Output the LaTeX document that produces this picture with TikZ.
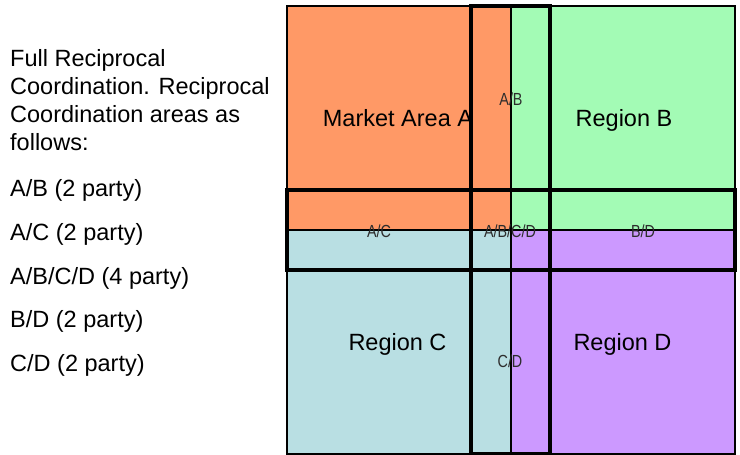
\documentclass[tikz,border=0pt]{standalone}
\usepackage{fontspec}
\setmainfont{Liberation Sans}
\newfontfamily\narrowfont[FakeStretch=0.82]{Liberation Sans}
\definecolor{areaA}{RGB}{255,153,102}
\definecolor{areaB}{RGB}{163,251,181}
\definecolor{areaC}{RGB}{185,223,227}
\definecolor{areaD}{RGB}{204,153,255}
\definecolor{smalltext}{RGB}{45,45,45}
\tikzset{
  quad/.style={draw=black, line width=1.8pt},
  strip/.style={draw=black, line width=4pt},
  bigtext/.style={inner sep=0pt, anchor=base, font=\fontsize{23.5}{28}\selectfont},
  smalltxt/.style={inner sep=0pt, anchor=center, text=smalltext, font=\narrowfont\fontsize{17.5}{20}\selectfont},
  lefttext/.style={inner sep=0pt, anchor=base west, font=\fontsize{23.5}{28}\selectfont},
}
\begin{document}
\begin{tikzpicture}[x=1pt, y=-1pt]
\useasboundingbox (0,0) rectangle (740,455);
% quadrants
\draw[quad, fill=areaA] (287,6) rectangle (511,230);
\draw[quad, fill=areaB] (511,6) rectangle (735,230);
\draw[quad, fill=areaC] (287,230) rectangle (511,454);
\draw[quad, fill=areaD] (511,230) rectangle (735,454);
% overlap strips
\draw[strip] (471,6) rectangle (550,454);
\draw[strip] (287,190) rectangle (735,270);
% region labels
\node[bigtext] (ma) at (398,126) {Market Area A};
\node[bigtext] (rb) at (624,126) {Region B};
\node[bigtext] (rc) at (397.5,350) {Region C};
\node[bigtext] (rd) at (622.5,350) {Region D};
% overlap labels
\node[smalltxt] (ab) at (511,99) {A/B};
\node[smalltxt] (ac) at (379,231) {A/C};
\node[smalltxt] (abcd) at (510,231) {A/B/C/D};
\node[smalltxt] (bd) at (643,231) {B/D};
\node[smalltxt] (cd) at (510,361) {C/D};
% left text
\node[lefttext] (t1) at (10,66) {Full Reciprocal};
\node[lefttext] (t2) at (10,94) {Coordination. Reciprocal};
\node[lefttext] (t3) at (10,122) {Coordination areas as};
\node[lefttext] (t4) at (10,150) {follows:};
\node[lefttext] (l1) at (10,196.5) {A/B (2 party)};
\node[lefttext] (l2) at (10,240.3) {A/C (2 party)};
\node[lefttext] (l3) at (10,284) {A/B/C/D (4 party)};
\node[lefttext] (l4) at (10,327.8) {B/D (2 party)};
\node[lefttext] (l5) at (10,371.5) {C/D (2 party)};
\end{tikzpicture}
\end{document}
